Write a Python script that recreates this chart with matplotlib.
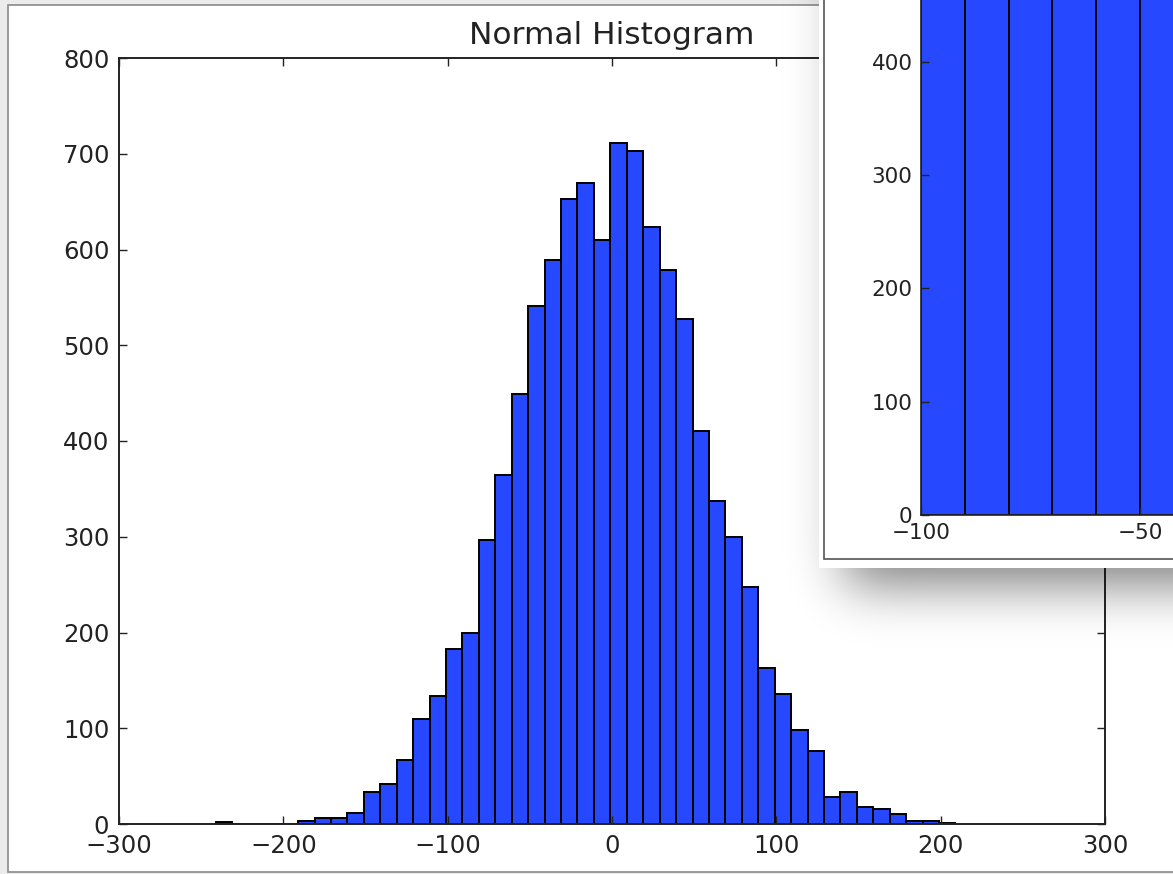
import math
import numpy as np
import matplotlib
matplotlib.use("Agg")
import matplotlib.pyplot as plt
from matplotlib.patches import Rectangle

# ---- data ----
bin_edges = list(range(-241, 210, 10))   # 45 bins of width 10
counts = [2, 0, 0, 0, 0, 3, 6, 6, 12, 33, 42, 67, 110, 134, 183, 200,
          297, 364, 449, 541, 589, 653, 669, 610, 711, 703, 624, 579, 527,
          410, 337, 300, 247, 163, 136, 98, 76, 28, 33, 18, 16, 10, 3, 3, 1]
title = "Normal Histogram"
x_ticks = [-300, -200, -100, 0, 100, 200, 300]
y_ticks = [0, 100, 200, 300, 400, 500, 600, 700, 800]

# inset (zoomed window) – bars are clipped above the visible area
inset_edges = [-100, -90, -80, -70, -60, -50, -40]
inset_counts = [480, 500, 520, 540, 560, 580]
inset_x_ticks = [-100, -50, 0]
inset_y_ticks = [0, 100, 200, 300, 400, 500]

W, H = 1173, 874
BAR = "#2649ff"

plt.rcParams['font.family'] = ['DejaVu Sans']
fig = plt.figure(figsize=(W / 100, H / 100), dpi=100)
fig.patch.set_facecolor("#ececec")


def frac(x0, y0, x1, y1):
    """pixel box (top-down coords) -> figure fraction rect"""
    return [x0 / W, 1 - y1 / H, (x1 - x0) / W, (y1 - y0) / H]


# outer window background + border
bg = fig.add_axes([0, 0, 1, 1], zorder=0)
bg.set_xlim(0, W)
bg.set_ylim(H, 0)
bg.axis("off")
bg.add_patch(Rectangle((8, 5), W, 867, facecolor="white", edgecolor="#8a8a8a", lw=1.2))

# ---- main histogram ----
ax = fig.add_axes(frac(119, 58, 1105, 824), zorder=1)
ax.bar(bin_edges[:-1], counts, width=np.diff(bin_edges), align="edge",
       color=BAR, edgecolor="black", linewidth=1.4)
ax.set_xlim(-300, 300)
ax.set_ylim(0, 800)
ax.set_xticks(x_ticks)
ax.set_yticks(y_ticks)
ax.set_xticklabels([f"\u2212{abs(v)}" if v < 0 else str(v) for v in x_ticks])
ax.tick_params(direction="in", length=6, width=1, top=True, right=True,
               labelsize=17.5, colors="#222222", pad=7)
for s in ax.spines.values():
    s.set_linewidth(1.4)
    s.set_color("#222222")
ax.set_title(title, fontsize=22.5, pad=10, color="#222222")
ax.set_facecolor("white")

# ---- shadow of the overlaid window ----
sh = fig.add_axes([0, 0, 1, 1], zorder=2)
sh.set_xlim(0, W)
sh.set_ylim(H, 0)
sh.axis("off")
xs = np.arange(W) + 0.5
ys = np.arange(H) + 0.5
erf = np.vectorize(math.erf)


def band(v, a, b, sig):
    return 0.5 * (erf((v - a) / (sig * 1.414)) - erf((v - b) / (sig * 1.414)))


mask = np.outer(band(ys, -200, 585, 26), band(xs, 845, 1600, 26))
img = np.zeros((H, W, 4))
img[..., 3] = 0.5 * mask
sh.imshow(img, extent=(0, W, H, 0), aspect="auto", interpolation="bilinear")

# white window panel with inner frame
sh.add_patch(Rectangle((819, -10), 400, 578, facecolor="white", edgecolor="none"))
sh.add_patch(Rectangle((824, -10), 400, 569, facecolor="white", edgecolor="#555555", lw=1.2))

# ---- inset chart ----
ins = fig.add_axes(frac(921, 515 - 5 * 113.3, 921 + 438, 515), zorder=3)
ins.bar(inset_edges[:-1], inset_counts, width=np.diff(inset_edges), align="edge",
        color=BAR, edgecolor="black", linewidth=1.3)
ins.set_xlim(-100, 0)
ins.set_ylim(0, 500)
ins.set_xticks(inset_x_ticks)
ins.set_yticks(inset_y_ticks)
ins.set_xticklabels([f"\u2212{abs(v)}" if v < 0 else str(v) for v in inset_x_ticks])
ins.tick_params(direction="in", length=6, width=1, top=True, right=True,
                labelsize=15.5, colors="#222222", pad=6)
for s in ins.spines.values():
    s.set_linewidth(1.2)
    s.set_color("#222222")

fig.savefig("out.png", dpi=100, facecolor=fig.get_facecolor())
